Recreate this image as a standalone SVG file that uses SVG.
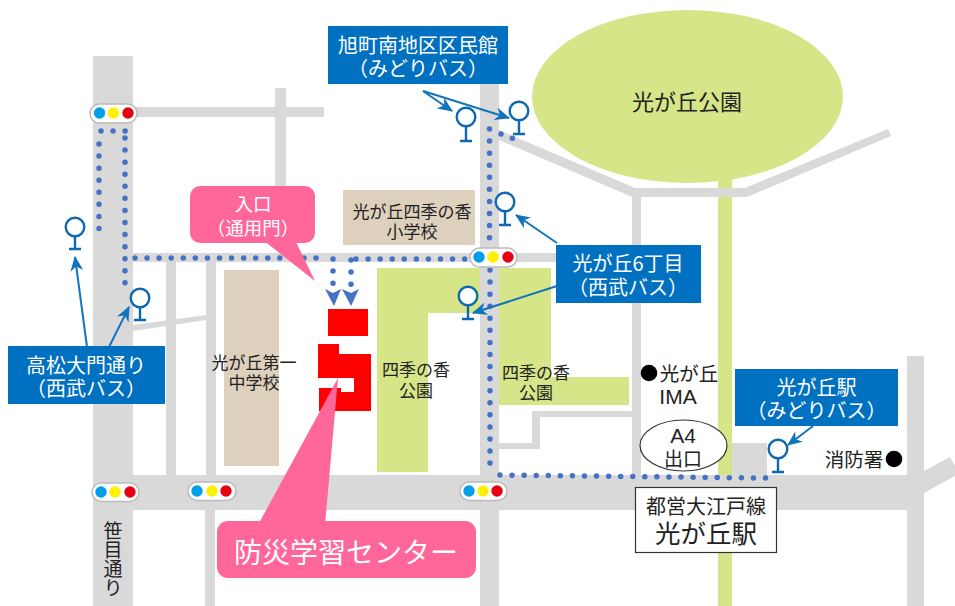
<svg xmlns="http://www.w3.org/2000/svg" width="955" height="606" viewBox="0 0 955 606">
<defs>
<marker id="stealth" markerUnits="userSpaceOnUse" viewBox="0 0 15 13" refX="14" refY="6.5" markerWidth="15" markerHeight="13" orient="auto"><path d="M15 6.500L0 0L4.500 6.500L0 13Z" fill="#0f75bd"/></marker>
</defs>
<style>
text{font-family:"Noto Sans CJK JP","Liberation Sans",sans-serif;text-anchor:middle}
.w{fill:#fff;font-size:20px}
.k{fill:#222;font-size:17px}
.road{fill:#d9d9d9}
.green{fill:#d5e587}
.tan{fill:#ddd0bc}
.blue{fill:#0070c0}
.pink{fill:#ff6699}
.dot{fill:none;stroke:#4472c4;stroke-width:5.500;stroke-linecap:round;stroke-dasharray:0 12.07}
.arr{fill:none;stroke:#0f75bd;stroke-width:2;marker-end:url(#stealth)}
.stop{fill:#fff;stroke:#0f68b0;stroke-width:2.400}
.tl{fill:#fff;stroke:#bbb;stroke-width:1.500}
.cb{fill:#00a0e9}.cy{fill:#fff100}.cr{fill:#e60012}
</style>
<rect width="955" height="606" fill="#fff"/>
<g id="park-main">
<rect class="green" x="718" y="175" width="14" height="431"/>
<ellipse class="green" cx="687.500" cy="96.500" rx="155.500" ry="86.500"/>
<text class="k" x="687" y="110" style="font-size:22px">光が丘公園</text>
</g>
<g id="park-west">
<polygon class="green" points="377,268 551,268 551,377 629,377 629,405 497,405 497,313 428,313 428,472 377,472"/>
</g>
<g id="roads">
<rect class="road" x="93" y="56" width="40" height="550"/>
<rect class="road" x="133" y="107" width="191" height="10"/>
<rect class="road" x="275" y="88" width="11" height="110"/>
<rect class="road" x="133" y="253" width="423" height="9"/>
<rect class="road" x="166" y="262" width="10" height="214"/>
<rect class="road" x="206" y="262" width="10" height="214"/>
<rect class="road" x="205" y="510" width="10" height="96"/>
<polygon class="road" points="133,325 206,315 206,320 133,331"/>
<rect class="road" x="480" y="83" width="19" height="523"/>
<rect class="road" x="133" y="475" width="791" height="35"/>
<polygon class="road" points="499,130 635,188 745,188 888,129 891,136 747,197 632,197 499,140"/>
<rect class="road" x="632" y="192" width="9" height="284"/>
<rect class="road" x="907" y="356" width="17" height="250"/>
<polygon class="road" points="924,471 950,457 955,466 955,476 924,493"/>
<rect class="road" x="732" y="443" width="35" height="33"/>
<polygon class="road" points="498,443 532,443 532,411 632,411 632,417 540,417 540,449 498,449"/>
</g>
<g id="park-west-labels">
<text class="k"><tspan x="416" y="375.500">四季の香</tspan><tspan x="416" y="396.500">公園</tspan></text>
<text class="k"><tspan x="536" y="378.500">四季の香</tspan><tspan x="536" y="398.500">公園</tspan></text>
</g>
<g id="school-primary">
<rect class="tan" x="343" y="190" width="132" height="55"/>
<text class="k"><tspan x="412" y="217.500">光が丘四季の香</tspan><tspan x="412" y="237.500">小学校</tspan></text>
</g>
<g id="school-junior">
<rect class="tan" x="224" y="270" width="55" height="196"/>
<text class="k"><tspan x="254" y="368.500">光が丘第一</tspan><tspan x="254" y="388.500">中学校</tspan></text>
</g>
<g id="center-building">
<rect x="328" y="309" width="40" height="27" fill="#f00"/>
<polygon points="318,344 339,344 339,354 371,354 371,411 319,411 319,388 341,388 341,392 354,392 354,378 318,378" fill="#f00"/>
</g>
<g id="connectors">
<path class="dot" d="M101 131H126M99 144V230M125 138V284M135 258H317M356 259H465M333 259V284M351 260V285"/>
<path class="dot" d="M489.500 129V239M490 270V465M500 475L766.500 478.100M501 134L513 138.500"/>
<polygon points="325,289 333,293 341,289 334,306" fill="#4472c4"/>
<polygon points="342,289 351,293 359,289 351,306" fill="#4472c4"/>
<path class="arr" d="M87 347L75 257"/>
<path class="arr" d="M109 347L129 307"/>
<path class="arr" d="M423 91L452 111"/>
<path class="arr" d="M423 91L509 118"/>
<path class="arr" d="M557 243L516 215"/>
<path class="arr" d="M557 286L473 313"/>
<path class="arr" d="M813 426L788 445"/>
</g>
<g id="stop-1"><circle class="stop" cx="75" cy="227" r="9.300"/><path class="stop" d="M75 236V249M69 249H81"/></g>
<g id="stop-2"><circle class="stop" cx="140" cy="298" r="9.300"/><path class="stop" d="M140 307V320M134 320H146"/></g>
<g id="stop-3"><circle class="stop" cx="466" cy="117" r="9.300"/><path class="stop" d="M466 126V141M460 141H472"/></g>
<g id="stop-4"><circle class="stop" cx="519" cy="111" r="9.300"/><path class="stop" d="M519 120V134M513 134H525"/></g>
<g id="stop-5"><circle class="stop" cx="505" cy="202" r="9.300"/><path class="stop" d="M505 211V225M499 225H511"/></g>
<g id="stop-6"><circle class="stop" cx="468" cy="296" r="9.300"/><path class="stop" d="M468 305V319M462 319H474"/></g>
<g id="stop-7"><circle class="stop" cx="778" cy="449" r="9.300"/><path class="stop" d="M778 458V472M772 472H784"/></g>
<g id="signal-1"><rect class="tl" x="90" y="104" width="47" height="19" rx="9.500"/><circle class="cb" cx="99.500" cy="113" r="5.700"/><circle class="cy" cx="113.500" cy="113" r="5.700"/><circle class="cr" cx="128" cy="113" r="5.700"/></g>
<g id="signal-2"><rect class="tl" x="470" y="248" width="47" height="19" rx="9.500"/><circle class="cb" cx="479" cy="257" r="5.700"/><circle class="cy" cx="493" cy="257" r="5.700"/><circle class="cr" cx="508" cy="257" r="5.700"/></g>
<g id="signal-3"><rect class="tl" x="92" y="483" width="47" height="18.500" rx="9.200"/><circle class="cb" cx="101" cy="492" r="5.700"/><circle class="cy" cx="115" cy="492" r="5.700"/><circle class="cr" cx="130" cy="492" r="5.700"/></g>
<g id="signal-4"><rect class="tl" x="188" y="482" width="48" height="18.500" rx="9.200"/><circle class="cb" cx="197" cy="491" r="5.700"/><circle class="cy" cx="212" cy="491" r="5.700"/><circle class="cr" cx="226" cy="491" r="5.700"/></g>
<g id="signal-5"><rect class="tl" x="460" y="482" width="47" height="18.500" rx="9.200"/><circle class="cb" cx="469" cy="491" r="5.700"/><circle class="cy" cx="483" cy="491" r="5.700"/><circle class="cr" cx="497" cy="491" r="5.700"/></g>
<g id="label-asahi"><rect class="blue" x="328" y="26" width="180" height="58"/><text class="w"><tspan x="418" y="52.500">旭町南地区区民館</tspan><tspan x="418" y="75.500">（みどりバス）</tspan></text></g>
<g id="label-6chome"><rect class="blue" x="556" y="245" width="145" height="58"/><text class="w"><tspan x="628" y="270.500">光が丘6丁目</tspan><tspan x="628" y="294.500">（西武バス）</tspan></text></g>
<g id="label-takamatsu"><rect class="blue" x="8" y="346" width="157" height="58"/><text class="w"><tspan x="86" y="372.500">高松大門通り</tspan><tspan x="86" y="395.500">（西武バス）</tspan></text></g>
<g id="label-hikarigaoka"><rect class="blue" x="735" y="369" width="163" height="57"/><text class="w"><tspan x="816.500" y="394.500">光が丘駅</tspan><tspan x="816.500" y="417.500">（みどりバス）</tspan></text></g>
<g id="callout-entrance"><polygon class="pink" points="263,240 295,240 315,281"/><rect class="pink" x="190" y="186" width="125" height="57" rx="10"/><text class="w" style="font-size:18.500px"><tspan x="253" y="211">入口</tspan><tspan x="253" y="235">（通用門）</tspan></text></g>
<g id="callout-center"><polygon class="pink" points="338,378 325,525 258,525"/><rect class="pink" x="217" y="521" width="259" height="57" rx="11"/><text class="w" x="346" y="562.500" style="font-size:28px">防災学習センター</text></g>
<g id="label-sasame"><text class="k" x="113" y="521" style="font-size:19px;writing-mode:vertical-rl;text-anchor:start">笹目通り</text></g>
<g id="label-ima"><circle cx="649" cy="373" r="8.300" fill="#000"/><text class="k" x="689" y="380.500" style="font-size:19.500px">光が丘</text><text class="k" x="678" y="404" style="font-size:21px;font-family:'Liberation Sans',sans-serif">IMA</text></g>
<g id="label-a4"><ellipse cx="683.500" cy="445.500" rx="43.500" ry="25.500" fill="#fff" stroke="#333" stroke-width="1.200"/><text class="k" x="683" y="443" style="font-size:21px;font-family:'Liberation Sans',sans-serif">A4</text><text class="k" x="683" y="466" style="font-size:19px">出口</text></g>
<g id="label-fire"><text class="k" x="854" y="466.500" style="font-size:19.500px">消防署</text><circle cx="894" cy="459" r="8.300" fill="#000"/></g>
<g id="label-station"><rect x="635.500" y="487.500" width="141" height="65" fill="#fff" stroke="#333" stroke-width="1.200"/><text class="k" x="706" y="513.500" style="font-size:20px"><tspan>都営大江戸線</tspan><tspan x="706" y="542.500" style="font-size:25.500px">光が丘駅</tspan></text></g>
</svg>
